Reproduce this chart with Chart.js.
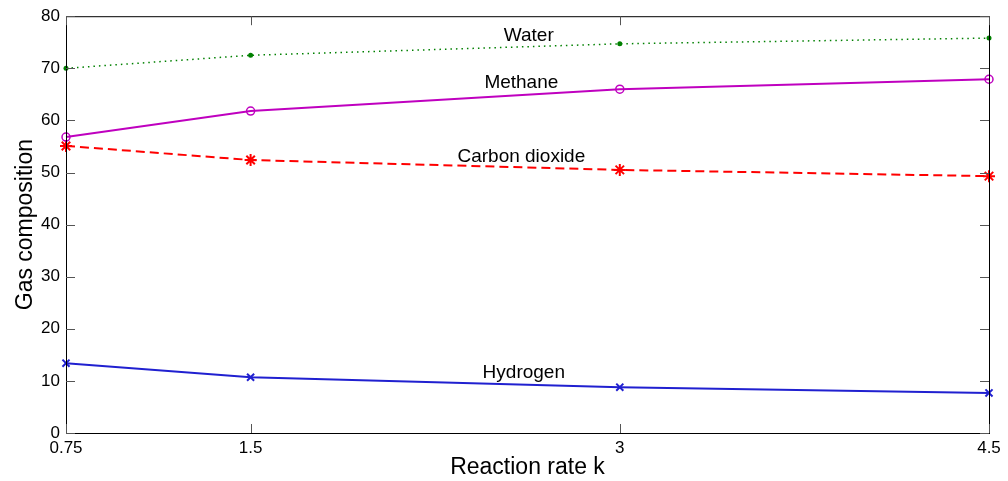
<!DOCTYPE html>
<html>
<head>
<meta charset="utf-8">
<script src="https://cdn.jsdelivr.net/npm/chart.js@4.4.0/dist/chart.umd.min.js"></script>
<style>
  html, body { margin: 0; padding: 0; background: #fff; }
  #wrap { width: 1008px; height: 481px; }
</style>
</head>
<body>
<div id="wrap"><canvas id="gasChart" width="1008" height="481"></canvas></div>
<script>
var rates = [0.75, 1.5, 3, 4.5];
var water = [70, 72.5, 74.7, 75.8];
var methane = [56.8, 61.8, 66, 67.9];
var carbonDioxide = [55.1, 52.4, 50.5, 49.3];
var hydrogen = [13.4, 10.7, 8.8, 7.7];
var yTicks = [0, 10, 20, 30, 40, 50, 60, 70, 80];

// curve labels placed in data coordinates
var curveNames = ['Water', 'Methane', 'Carbon dioxide', 'Hydrogen'];
var nameX = [2.63, 2.6, 2.6, 2.61];
var nameY = [76.2, 67.3, 53.1, 11.6];

var fontFam = '"Liberation Sans", Arial, sans-serif';

function pts(ys) {
    return rates.map(function (x, i) { return { x: x, y: ys[i] }; });
}

// MATLAB-like box with inward ticks plus the curve names
var boxPlugin = {
    id: 'box',
    afterDraw: function (chart) {
        var c = chart.ctx, a = chart.chartArea;
        var xs = chart.scales.x, ys = chart.scales.y;
        c.save();
        c.strokeStyle = '#000';
        c.lineWidth = 1;
        c.strokeRect(a.left + 0.5, a.top + 0.5, a.right - a.left, a.bottom - a.top);
        c.strokeStyle = '#555';
        c.beginPath();
        rates.forEach(function (r) {
            var px = Math.round(xs.getPixelForValue(r)) + 0.5;
            c.moveTo(px, a.bottom); c.lineTo(px, a.bottom - 9);
            c.moveTo(px, a.top); c.lineTo(px, a.top + 9);
        });
        yTicks.forEach(function (t) {
            var py = Math.round(ys.getPixelForValue(t)) + 0.5;
            c.moveTo(a.left, py); c.lineTo(a.left + 9, py);
            c.moveTo(a.right, py); c.lineTo(a.right - 9, py);
        });
        c.stroke();
        c.fillStyle = '#000';
        c.font = '19px ' + fontFam;
        c.textAlign = 'center';
        c.textBaseline = 'middle';
        curveNames.forEach(function (n, i) {
            c.fillText(n, xs.getPixelForValue(nameX[i]), ys.getPixelForValue(nameY[i]));
        });
        c.restore();
    }
};

var ctx = document.getElementById('gasChart').getContext('2d');
var gasChart = new Chart(ctx, {
    type: 'line',
    data: {
        datasets: [{
            label: 'Water',
            data: pts(water),
            borderColor: '#008000',
            backgroundColor: '#008000',
            borderWidth: 1.5,
            borderDash: [1.5, 4],
            pointStyle: 'circle',
            pointRadius: 2.5,
            pointBorderWidth: 0
        }, {
            label: 'Methane',
            data: pts(methane),
            borderColor: '#bf00bf',
            backgroundColor: 'rgba(0,0,0,0)',
            borderWidth: 2,
            pointStyle: 'circle',
            pointRadius: 4,
            pointBorderWidth: 1.5
        }, {
            label: 'Carbon dioxide',
            data: pts(carbonDioxide),
            borderColor: '#ff0000',
            backgroundColor: '#ff0000',
            borderWidth: 2,
            borderDash: [9, 5],
            pointStyle: 'star',
            pointRadius: 6,
            pointBorderWidth: 2
        }, {
            label: 'Hydrogen',
            data: pts(hydrogen),
            borderColor: '#2020d0',
            backgroundColor: '#2020d0',
            borderWidth: 2,
            pointStyle: 'crossRot',
            pointRadius: 5,
            pointBorderWidth: 2
        }]
    },
    options: {
        responsive: false,
        animation: false,
        clip: false,
        layout: { padding: { top: 16, right: 19, left: 0, bottom: 0 } },
        plugins: {
            legend: { display: false },
            tooltip: { enabled: false }
        },
        scales: {
            x: {
                type: 'linear',
                min: 0.75,
                max: 4.5,
                afterBuildTicks: function (s) {
                    s.ticks = rates.map(function (v) { return { value: v }; });
                },
                afterFit: function (s) { s.height = 48; },
                grid: { display: false, drawTicks: false },
                border: { display: false },
                ticks: {
                    color: '#000',
                    padding: 5,
                    maxRotation: 0,
                    callback: function (v) { return String(v); },
                    font: { family: fontFam, size: 17 }
                },
                title: {
                    display: true,
                    text: 'Reaction rate k',
                    color: '#000',
                    padding: { top: 0, bottom: 0 },
                    font: { family: fontFam, size: 23 }
                }
            },
            y: {
                min: 0,
                max: 80,
                afterBuildTicks: function (s) {
                    s.ticks = yTicks.map(function (v) { return { value: v }; });
                },
                afterFit: function (s) { s.width = 66; },
                grid: { display: false, drawTicks: false },
                border: { display: false },
                ticks: {
                    color: '#000',
                    padding: 6,
                    font: { family: fontFam, size: 17 }
                },
                title: {
                    display: true,
                    text: 'Gas composition',
                    color: '#000',
                    padding: { top: 12, bottom: 0 },
                    font: { family: fontFam, size: 23 }
                }
            }
        }
    },
    plugins: [boxPlugin]
});
</script>
</body>
</html>
